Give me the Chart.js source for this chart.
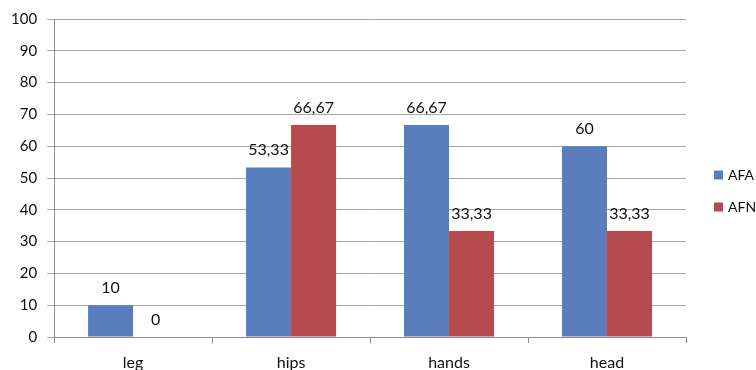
<!DOCTYPE html>
<html>
<head>
<meta charset="utf-8">
<script src="https://cdn.jsdelivr.net/npm/chart.js@4"></script>
<style>
  html, body { margin: 0; padding: 0; background: #fff; }
  #wrap { width: 756px; height: 370px; }
</style>
</head>
<body>
<div id="wrap"><canvas id="c" width="756" height="370"></canvas></div>
<script>
const categories = ['leg', 'hips', 'hands', 'head'];
const afaValues = [10, 53.33, 66.67, 60];
const afnValues = [0, 66.67, 33.33, 33.33];
const yTicks = [0, 10, 20, 30, 40, 50, 60, 70, 80, 90, 100];

const FONT = 'Lato, "Open Sans", sans-serif';
const TEXT = '#111';

// Prints each bar's value above it, with a decimal comma
const valueLabels = {
  id: 'valueLabels',
  afterDatasetsDraw(chart) {
    const ctx = chart.ctx;
    ctx.save();
    ctx.font = '16px ' + FONT;
    ctx.fillStyle = TEXT;
    ctx.textAlign = 'center';
    ctx.textBaseline = 'alphabetic';
    chart.data.datasets.forEach((ds, i) => {
      const meta = chart.getDatasetMeta(i);
      meta.data.forEach((bar, j) => {
        const txt = String(ds.data[j]).replace('.', ',');
        ctx.fillText(txt, bar.x, bar.y - 12);
      });
    });
    ctx.restore();
  }
};

// Legend to the right of the plot: colour squares with series names
const sideLegend = {
  id: 'sideLegend',
  afterDraw(chart) {
    const ctx = chart.ctx;
    const area = chart.chartArea;
    const x = area.right + 28;
    const rows = [175, 207];
    ctx.save();
    ctx.font = '14px ' + FONT;
    ctx.textBaseline = 'middle';
    ctx.textAlign = 'left';
    chart.data.datasets.forEach((ds, i) => {
      const y = rows[i];
      ctx.fillStyle = ds.backgroundColor;
      ctx.fillRect(x, y - 4.5, 9, 9);
      ctx.fillStyle = TEXT;
      ctx.fillText(ds.label, x + 14, y);
    });
    ctx.restore();
  }
};

new Chart(document.getElementById('c'), {
  type: 'bar',
  data: {
    labels: categories,
    datasets: [
      { label: 'AFA', data: afaValues, backgroundColor: '#5a7dbd', borderWidth: 0 },
      { label: 'AFN', data: afnValues, backgroundColor: '#b64b4f', borderWidth: 0 }
    ]
  },
  options: {
    responsive: false,
    animation: false,
    layout: { padding: { top: 13, right: 70, left: 1, bottom: 0 } },
    plugins: {
      legend: { display: false },
      tooltip: { enabled: false }
    },
    datasets: {
      bar: { categoryPercentage: 0.57, barPercentage: 1.0 }
    },
    scales: {
      x: {
        afterFit(scale) { scale.height = 33; },
        grid: {
          display: true,
          drawOnChartArea: false,
          drawTicks: true,
          tickLength: 6,
          color: '#8c8c8c',
          offset: true
        },
        border: { display: true, color: '#8c8c8c' },
        ticks: {
          font: { family: FONT, size: 16 },
          color: TEXT,
          padding: 10
        }
      },
      y: {
        min: 0,
        max: 100,
        afterBuildTicks(axis) { axis.ticks = yTicks.map(v => ({ value: v })); },
        grid: {
          color: '#a6a6a6',
          tickLength: 7
        },
        border: { display: true, color: '#8c8c8c' },
        ticks: {
          font: { family: FONT, size: 15 },
          color: TEXT,
          padding: 10
        }
      }
    }
  },
  plugins: [valueLabels, sideLegend]
});
</script>
</body>
</html>
